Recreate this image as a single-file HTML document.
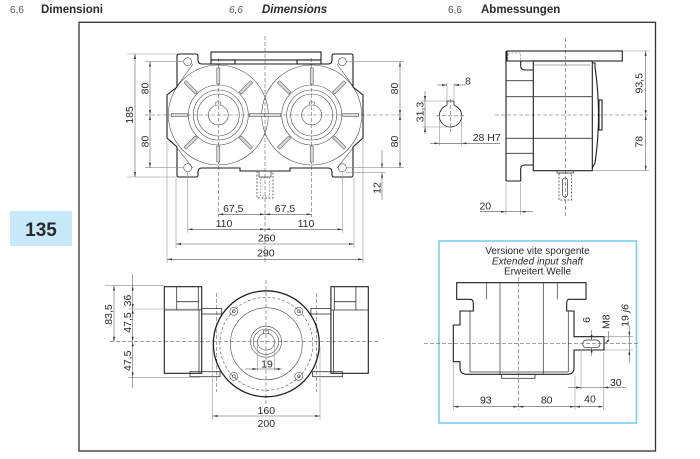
<!DOCTYPE html>
<html><head><meta charset="utf-8"><title>Dimensions</title>
<style>
html,body{margin:0;padding:0;background:#fff;width:700px;height:459px;overflow:hidden}
svg{display:block}
text{font-family:"Liberation Sans",Arial,sans-serif;fill:#2a2a2a}
.o{fill:none;stroke:#1e1e1e;stroke-width:1.1}
.t{fill:none;stroke:#4a4a4a;stroke-width:0.6}
.c{fill:none;stroke:#666;stroke-width:0.6;stroke-dasharray:4 2}
.d{fill:none;stroke:#555;stroke-width:0.55}
.e{fill:none;stroke:#8f8f8f;stroke-width:0.55}
.dt{font-size:10.5px}
</style></head><body>
<svg width="700" height="459" viewBox="0 0 700 459" xmlns="http://www.w3.org/2000/svg">
<defs>
<marker id="a" viewBox="0 0 10 4" refX="10" refY="2" markerWidth="5" markerHeight="2" markerUnits="userSpaceOnUse" orient="auto-start-reverse"><path d="M0,0L10,2L0,4z" fill="#333"/></marker>
</defs>
<rect width="700" height="459" fill="#fff"/>

<!-- header -->
<text x="10" y="13" font-size="10" style="fill:#555">6,6</text>
<text x="41" y="13" font-size="11.5" font-weight="bold">Dimensioni</text>
<text x="229" y="13" font-size="10" font-style="italic" style="fill:#555">6,6</text>
<text x="262" y="13" font-size="11.5" font-weight="bold" font-style="italic">Dimensions</text>
<text x="448" y="13" font-size="10" style="fill:#555">6,6</text>
<text x="481" y="13" font-size="11.5" font-weight="bold">Abmessungen</text>

<!-- page number -->
<rect x="10" y="211" width="62" height="35" fill="#c8e9f9"/>
<text x="41" y="236" font-size="19" font-weight="bold" text-anchor="middle">135</text>

<!-- frame -->
<rect x="79" y="22.3" width="576.5" height="428.7" fill="none" stroke="#333" stroke-width="1.3"/>

<!-- ============ TOP-LEFT VIEW ============ -->
<path class="c" d="M265,36V263M145,115H404M218.3,58V217M311.7,58V217"/>
<g class="t">
<circle cx="218.3" cy="115" r="50"/><circle cx="311.7" cy="115" r="50"/>
<circle cx="218.3" cy="115" r="30"/><circle cx="218.3" cy="115" r="25"/><circle cx="218.3" cy="115" r="21"/><circle cx="218.3" cy="115" r="10"/>
<circle cx="311.7" cy="115" r="30"/><circle cx="311.7" cy="115" r="25"/><circle cx="311.7" cy="115" r="21"/><circle cx="311.7" cy="115" r="10"/>
<path d="M215.8,105.3V102H220.8V105.3M309.2,105.3V102H314.2V105.3"/>
<path d="M193,64L177,86M193,168L177,148M337,64L353,86M337,168L353,148"/>
<circle cx="187.7" cy="61.7" r="4"/><circle cx="187.7" cy="167.7" r="4"/>
<circle cx="342.3" cy="61.7" r="4"/><circle cx="342.3" cy="167.7" r="4"/>
</g>
<g fill="#d9d9d9" stroke="#444" stroke-width="0.5">
<g transform="translate(218.3,115)">
<rect x="-1.5" y="-47" width="3" height="16"/>
<rect x="-1.5" y="-47" width="3" height="16" transform="rotate(45)"/>
<rect x="-1.5" y="-47" width="3" height="16" transform="rotate(90)"/>
<rect x="-1.5" y="-47" width="3" height="16" transform="rotate(135)"/>
<rect x="-1.5" y="-47" width="3" height="16" transform="rotate(180)"/>
<rect x="-1.5" y="-47" width="3" height="16" transform="rotate(225)"/>
<rect x="-1.5" y="-47" width="3" height="16" transform="rotate(270)"/>
<rect x="-1.5" y="-47" width="3" height="16" transform="rotate(315)"/>
</g>
<g transform="translate(311.7,115)">
<rect x="-1.5" y="-47" width="3" height="16"/>
<rect x="-1.5" y="-47" width="3" height="16" transform="rotate(45)"/>
<rect x="-1.5" y="-47" width="3" height="16" transform="rotate(90)"/>
<rect x="-1.5" y="-47" width="3" height="16" transform="rotate(135)"/>
<rect x="-1.5" y="-47" width="3" height="16" transform="rotate(180)"/>
<rect x="-1.5" y="-47" width="3" height="16" transform="rotate(225)"/>
<rect x="-1.5" y="-47" width="3" height="16" transform="rotate(270)"/>
<rect x="-1.5" y="-47" width="3" height="16" transform="rotate(315)"/>
</g>
</g>
<path class="o" d="M177,56Q177,54 179,54H196Q198,54 198,56V60Q198,64 202,64H328Q332,64 332,60V56Q332,54 334,54H351Q353,54 353,56V87L363,95V138L353,147V175Q353,177 351,177H334Q332,177 332,175V172Q332,168 328,168H290V171H240V168H202Q198,168 198,172V175Q198,177 196,177H179Q177,177 177,175V147L167,138V95L177,87Z"/>
<rect class="o" x="211" y="52" width="110" height="8" fill="#fff"/>
<rect class="o" x="211" y="60" width="24" height="4"/>
<rect class="o" x="297" y="60" width="24" height="4"/>
<rect x="257" y="171" width="16" height="27" fill="none" stroke="#333" stroke-width="0.7" stroke-dasharray="2 1.5"/>
<rect x="259" y="171" width="12" height="6" fill="none" stroke="#333" stroke-width="0.7"/>
<rect x="260.5" y="178" width="9" height="18" fill="none" stroke="#555" stroke-width="0.5" stroke-dasharray="1.5 1.5"/>

<!-- ext lines -->
<path class="e" d="M127,54H177M127,177H177M145,61.7H184M145,167.7H184M346,61.7H404M346,167.7H404M346,172.7H386M167,140V263M176,178V248M187.7,172V233M342.3,172V233M354,178V248M363,140V263"/>
<!-- dims -->
<g class="d" marker-start="url(#a)" marker-end="url(#a)">
<path d="M135,54V177"/>
<path d="M150,61.7V115"/><path d="M150,115V167.7"/>
<path d="M400,61.7V115"/><path d="M400,115V167.7"/>
<path d="M218.3,214.3H265"/><path d="M265,214.3H311.7"/>
<path d="M187.7,229.3H265"/><path d="M265,229.3H342.3"/>
<path d="M176,244H354"/>
<path d="M167,259.3H363"/>
</g>
<path class="d" d="M382,150V168.3" marker-end="url(#a)"/>
<path class="d" d="M382,200V172.7" marker-end="url(#a)"/>
<g class="dt">
<text transform="translate(133,115) rotate(-90)" text-anchor="middle">185</text>
<text transform="translate(148.5,88.5) rotate(-90)" text-anchor="middle">80</text>
<text transform="translate(148.5,141.5) rotate(-90)" text-anchor="middle">80</text>
<text transform="translate(398,88.5) rotate(-90)" text-anchor="middle">80</text>
<text transform="translate(398,141.5) rotate(-90)" text-anchor="middle">80</text>
<text transform="translate(380.5,188) rotate(-90)" text-anchor="middle">12</text>
<text x="233.3" y="212" text-anchor="middle">67,5</text>
<text x="285" y="212" text-anchor="middle">67,5</text>
<text x="224" y="227" text-anchor="middle">110</text>
<text x="306" y="227" text-anchor="middle">110</text>
<text x="266.7" y="241.7" text-anchor="middle">260</text>
<text x="265.8" y="256.5" text-anchor="middle">290</text>
</g>

<!-- ============ TOP-RIGHT SIDE VIEW ============ -->
<path class="c" d="M565.7,38V216M495,115H648"/>
<rect class="o" x="507" y="51" width="115.3" height="10" fill="#fff"/>
<rect x="508" y="53" width="12.7" height="8" fill="none" stroke="#555" stroke-width="0.5" stroke-dasharray="2 1.5"/>
<path class="o" d="M506,51V181H520.7V169Q520.7,165 525,165H533.3M520.7,61V66Q520.7,70 525,70H533.3"/>
<rect class="o" x="533.3" y="61" width="59" height="109.7"/>
<path class="o" d="M592.3,63H595V67Q602,115 595,163L592.3,168"/>
<rect class="o" x="599" y="100" width="3" height="30"/>
<path class="t" d="M533.3,65H590"/>
<path stroke="#333" stroke-width="0.8" fill="none" d="M506,96.7H592.3M506,138.3H592.3M506,80.7H533.3M506,153.3H533.3"/>
<rect x="557" y="170.7" width="16.5" height="2.3" fill="none" stroke="#333" stroke-width="0.7"/>
<rect x="559" y="173" width="12.7" height="27" fill="none" stroke="#333" stroke-width="0.7" stroke-dasharray="2 1.5"/>
<rect x="562.5" y="178" width="5" height="19" rx="2.5" fill="none" stroke="#333" stroke-width="0.7"/>
<!-- dims side -->
<path class="e" d="M506,183V215M520.7,183V215M623,51H649M593,170.7H649"/>
<path class="d" d="M480,211.7H506" marker-end="url(#a)"/>
<path class="d" d="M533,211.7H520.7" marker-end="url(#a)"/>
<path class="d" d="M506,211.7H520.7"/>
<path class="d" d="M645.7,51V115" marker-start="url(#a)" marker-end="url(#a)"/>
<path class="d" d="M645.7,115V170.7" marker-start="url(#a)" marker-end="url(#a)"/>
<g class="dt">
<text x="485.3" y="209.5" text-anchor="middle">20</text>
<text transform="translate(642.7,83.3) rotate(-90)" text-anchor="middle">93,5</text>
<text transform="translate(642.7,141.7) rotate(-90)" text-anchor="middle">78</text>
</g>

<!-- key detail -->
<path class="o" style="stroke-width:0.8" d="M447,105.2V101H454V105.2A11.2,11.2 0 1 1 447,105.2"/>
<path class="c" d="M436,115.8H465M450.5,99V132"/>
<path class="e" d="M447,83V101M454,83V101M422,101H447M422,127H450M439.3,116V146M461.7,116V146"/>
<path class="d" d="M437,85H447" marker-end="url(#a)"/>
<path class="d" d="M466,85H454" marker-end="url(#a)"/>
<path class="d" d="M425,91V101" marker-end="url(#a)"/>
<path class="d" d="M425,134V127" marker-end="url(#a)"/>
<path class="d" d="M425,101V127"/>
<path class="d" d="M430,143.3H439.3" marker-end="url(#a)"/>
<path class="d" d="M500,143.3H461.7" marker-end="url(#a)"/>
<path class="d" d="M439.3,143.3H461.7"/>
<g class="dt">
<text x="465" y="84.3">8</text>
<text transform="translate(423.3,112) rotate(-90)" text-anchor="middle">31,3</text>
<text x="472.7" y="141">28 H7</text>
</g>

<!-- ============ BOTTOM-LEFT VIEW ============ -->
<path class="c" d="M110,341.7H378M266,280V405M216.7,293V392M316.7,293V392"/>
<circle cx="266.3" cy="343.8" r="53" fill="none" stroke="#1e1e1e" stroke-width="1.3"/>
<circle cx="266.3" cy="343.8" r="46.5" fill="none" stroke="#555" stroke-width="0.6" stroke-dasharray="3 2"/>
<circle cx="266.3" cy="343.8" r="36" class="t"/>
<g class="t">
<circle cx="233.8" cy="311.3" r="4"/><circle cx="298.8" cy="311.3" r="4"/>
<circle cx="233.8" cy="376.3" r="4"/><circle cx="298.8" cy="376.3" r="4"/>
<circle cx="233.8" cy="311.3" r="1.5"/><circle cx="298.8" cy="311.3" r="1.5"/>
<circle cx="233.8" cy="376.3" r="1.5"/><circle cx="298.8" cy="376.3" r="1.5"/>
<circle cx="266" cy="341.7" r="15.5"/><circle cx="266" cy="341.7" r="12.7"/><circle cx="266" cy="341.7" r="8.5"/>
<path d="M263.5,333.4V330.5H268.5V333.4"/>
</g>
<!-- left block -->
<rect class="o" x="164.3" y="286.7" width="37.4" height="86.6"/>
<path class="t" style="stroke:#333;stroke-width:0.8" d="M176.7,286.7V310M198.3,286.7V310M176.7,301.7H198.3M164.3,310H201.7M199,310V373.3"/>
<!-- right block -->
<rect class="o" x="330.9" y="286.7" width="37.4" height="86.6"/>
<path class="t" style="stroke:#333;stroke-width:0.8" d="M355.9,286.7V310M334.3,286.7V310M334.3,301.7H355.9M330.9,310H368.3M333.6,310V373.3"/>
<!-- strips -->
<g fill="none" stroke="#333" stroke-width="0.8">
<rect x="201.7" y="308.5" width="20" height="5.5"/>
<rect x="310.9" y="308.5" width="20" height="5.5"/>
<rect x="190" y="371.7" width="30" height="5"/>
<rect x="312.6" y="371.7" width="30" height="5"/>
</g>
<!-- dims bottom-left -->
<path class="e" d="M105,285.7H164M128,309H201M128,377.3H200M212.7,346V420M320,346V420M257.5,342V371M274.5,342V371"/>
<g class="d" marker-start="url(#a)" marker-end="url(#a)">
<path d="M114,285.7V341.7"/>
<path d="M132.7,285.7V309"/>
<path d="M132.7,309V341.7"/>
<path d="M132.7,341.7V377.3"/>
<path d="M212.7,416H320"/>
</g>
<path class="d" d="M132.7,274V285.7M132.7,377.3V388"/>
<path class="d" d="M245,369H257.5" marker-end="url(#a)"/>
<path class="d" d="M282,369H274.5" marker-end="url(#a)"/>
<path class="d" d="M257.5,369H274.5"/>
<g class="dt">
<text transform="translate(112,314.5) rotate(-90)" text-anchor="middle">83,5</text>
<text transform="translate(131,300.5) rotate(-90)" text-anchor="middle">36</text>
<text transform="translate(131,322.5) rotate(-90)" text-anchor="middle">47,5</text>
<text transform="translate(131,360.8) rotate(-90)" text-anchor="middle">47,5</text>
<text x="267" y="367.3" text-anchor="middle">19</text>
<text x="266.3" y="414" text-anchor="middle">160</text>
<text x="266.3" y="427" text-anchor="middle">200</text>
</g>

<!-- ============ BLUE BOX ============ -->
<rect x="439" y="241" width="197.5" height="182" fill="none" stroke="#79d0f0" stroke-width="1.6"/>
<g font-size="10" text-anchor="middle">
<text x="537.5" y="254">Versione vite sporgente</text>
<text x="537.5" y="264.5" font-style="italic">Extended input shaft</text>
<text x="537.5" y="274.7">Erweitert Welle</text>
</g>
<path class="c" d="M424,343.3H640M518.3,277V410"/>
<path class="o" d="M456.7,282.7H586V299.3H569Q566.7,299.3 566.7,303V311H574V336.7H604V350H574V368Q574,374.3 567,374.3H467Q460,374.3 460,368V361.7H453.3V325H460V311H473.3V303Q473.3,299.3 470,299.3H456.7Z"/>
<path class="t" style="stroke:#333;stroke-width:0.7" d="M486.7,282.7V299.3M557.3,282.7V299.3M500,282.7V374.3M543.3,282.7V374.3M470,311V372M568.3,311V372M470,372H568.3"/>
<rect x="501.7" y="374.3" width="33.3" height="4" fill="none" stroke="#333" stroke-width="0.8"/>
<rect x="582.7" y="340" width="17.3" height="7.7" rx="3.8" fill="none" stroke="#333" stroke-width="0.7"/>
<!-- dims blue box -->
<path class="e" d="M453.3,363V410M575,376V410M603.3,352V410M581,349V390M604,336.7H633M604,350H633"/>
<g class="d" marker-start="url(#a)" marker-end="url(#a)">
<path d="M453.3,406.7H518.3"/>
<path d="M518.3,406.7H575"/>
<path d="M575,406.7H603.3"/>
</g>
<path class="d" d="M568,387.5H581" marker-end="url(#a)"/>
<path class="d" d="M626,387.5H603.3" marker-end="url(#a)"/>
<path class="d" d="M581,387.5H603.3"/>
<path class="d" d="M591.7,330V340" marker-end="url(#a)"/>
<path class="d" d="M591.7,356V347.7" marker-end="url(#a)"/>
<path class="d" d="M608.3,331V340.5L605,343.3" marker-end="url(#a)"/>
<path class="d" d="M629.3,326V336.7" marker-end="url(#a)"/>
<path class="d" d="M629.3,363V350" marker-end="url(#a)"/>
<path class="d" d="M629.3,336.7V350"/>
<g class="dt">
<text x="485.8" y="403.5" text-anchor="middle">93</text>
<text x="546.7" y="403.5" text-anchor="middle">80</text>
<text x="590" y="402.7" text-anchor="middle">40</text>
<text x="615.8" y="386" text-anchor="middle">30</text>
<text transform="translate(590,320) rotate(-90)" text-anchor="middle">6</text>
<text transform="translate(609.5,321.7) rotate(-90)" text-anchor="middle">M8</text>
<text transform="translate(628.5,315.5) rotate(-90)" text-anchor="middle">19 <tspan font-style="italic">j6</tspan></text>
</g>
</svg>
</body></html>
